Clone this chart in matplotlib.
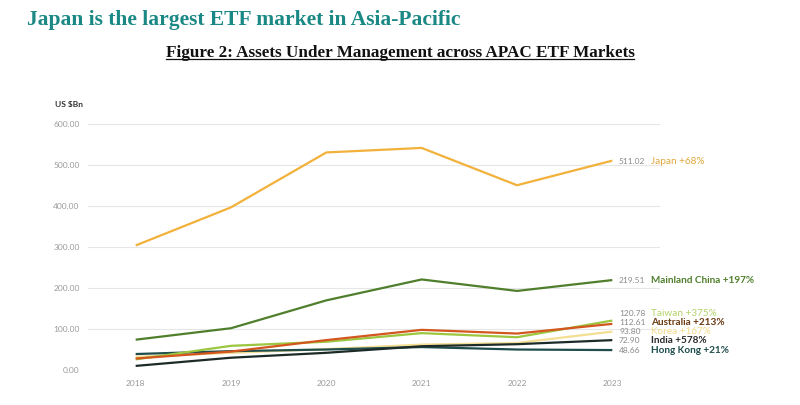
import matplotlib.pyplot as plt

years = [2018, 2019, 2020, 2021, 2022, 2023]

japan = [304, 397, 531, 542, 451, 511.02]
china = [74, 102, 170, 221, 193, 219.51]
taiwan = [26, 59, 69, 90, 80, 120.78]
australia = [28, 45, 73, 98, 89, 112.61]
korea = [32, 42, 51, 62, 66, 93.80]
india = [10, 30, 42, 58, 63, 72.90]
hongkong = [39, 46, 50, 56, 50, 48.66]

names = ["Japan +68%", "Mainland China +197%", "Taiwan +375%", "Australia +213%",
         "Korea +167%", "India +578%", "Hong Kong +21%"]
yticks = [0, 100, 200, 300, 400, 500, 600]

series = [japan, china, taiwan, australia, korea, india, hongkong]
colors = ["#F2B13A", "#4F7F2C", "#9CC63F", "#D4561F", "#F4DE93", "#1C2B28", "#1F4D4C"]
name_colors = ["#E0A83A", "#4F7F2C", "#B5D36A", "#6B3B12", "#F2D98A", "#2A2A2A", "#1F4D4C"]
label_y = [508, 219, 139, 115, 94, 72, 48.5]
bold = [False, True, False, True, False, True, True]
zorders = [3, 3, 4, 5, 3, 4, 3]

fig = plt.figure(figsize=(8, 4.05), dpi=100)
ax = fig.add_axes([0.11, 0.0864, 0.715, 0.607])

for s, c, z in zip(series, colors, zorders):
    ax.plot(years, s, color=c, lw=1.6, zorder=z, solid_capstyle="butt")

ax.set_xlim(2017.5, 2023.5)
ax.set_ylim(0, 600)
ax.set_yticks(yticks)
ax.set_yticklabels(["%.2f" % v for v in yticks])
ax.set_xticks(years)
ax.grid(axis="y", color="#E6E6E6", lw=0.8)
ax.set_axisbelow(True)
for sp in ax.spines.values():
    sp.set_visible(False)
ax.tick_params(length=0, labelsize=6, colors="#9A9A9A", pad=7)
ax.tick_params(axis="y", pad=6)
for lab in ax.get_xticklabels() + ax.get_yticklabels():
    lab.set_family("Lato")

for s, n, nc, ly, b in zip(series, names, name_colors, label_y, bold):
    ax.text(2023.07, ly, "%.2f" % s[-1], fontsize=6, color="#8A8A8A",
            va="center", ha="left", family="Lato")
    ax.text(2023.41, ly, n, fontsize=7.2, color=nc, va="center", ha="left",
            family="Lato", fontweight="bold" if b else "normal")

fig.text(0.069, 0.741, "US $Bn", fontsize=6, fontweight="bold", color="#333333",
         family="Lato", va="center")

fig.text(0.034, 0.95, "Japan is the largest ETF market in Asia-Pacific", fontsize=15.5,
         fontweight="bold", color="#1A8884", family="Liberation Serif", va="center")
sub = fig.text(0.5, 0.87, "Figure 2: Assets Under Management across APAC ETF Markets",
               fontsize=12.3, fontweight="bold", color="#111111",
               family="Liberation Serif", ha="center", va="center")

fig.canvas.draw()
bb = sub.get_window_extent().transformed(fig.transFigure.inverted())
fig.add_artist(plt.Line2D([bb.x0, bb.x1], [bb.y0 + 0.004, bb.y0 + 0.004],
                          color="#111111", lw=0.9, transform=fig.transFigure))

fig.savefig("out.png", dpi=100)
